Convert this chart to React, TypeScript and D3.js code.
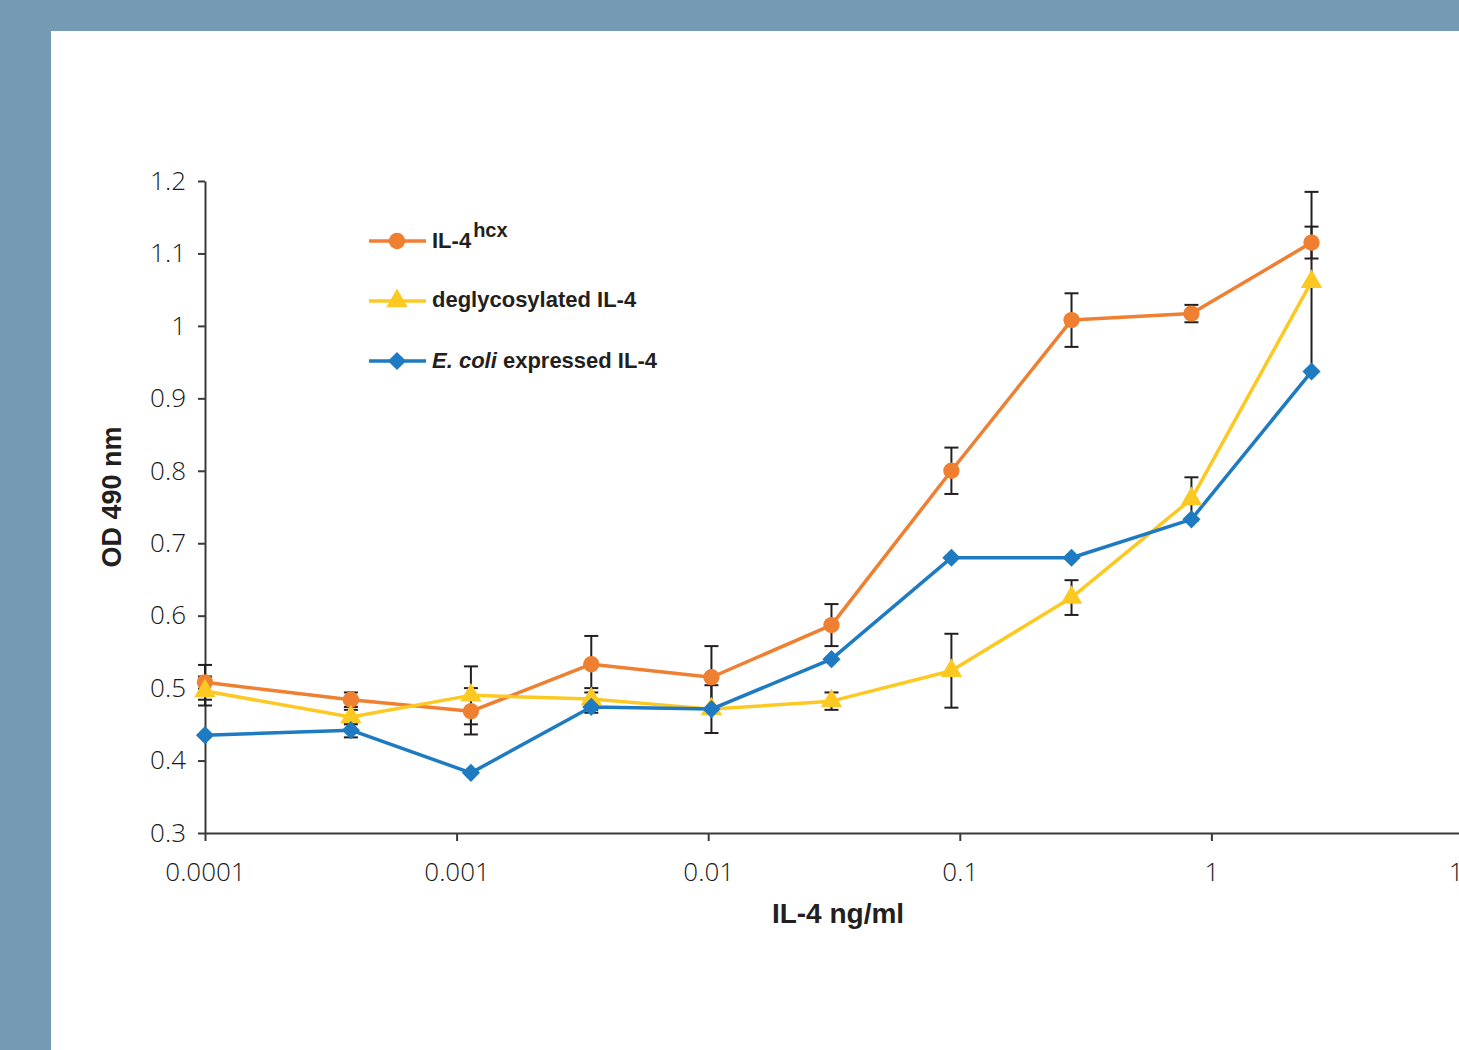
import * as d3 from "d3";
import { useEffect, useRef } from "react";

// IL-4 concentration (ng/ml), 3-fold dilution series
const doses = [0.0001, 0.00038, 0.00114, 0.00343, 0.0103, 0.0309, 0.0926, 0.278, 0.833, 2.5];

const hcxValues = [0.508, 0.484, 0.468, 0.533, 0.515, 0.587, 0.8, 1.008, 1.017, 1.115];
const hcxErrors = [0.024, 0.01, 0.032, 0.039, 0.043, 0.029, 0.032, 0.037, 0.012, 0.022];

const deglyValues = [0.496, 0.46, 0.49, 0.485, 0.471, 0.482, 0.524, 0.625, 0.761, 1.061];
const deglyErrors = [0.02, 0.01, 0.04, 0.015, 0.033, 0.012, 0.051, 0.024, 0.03, 0.124];

const ecoliValues = [0.435, 0.442, 0.383, 0.474, 0.471, 0.54, 0.68, 0.68, 0.733, 0.937];
const ecoliErrors = [0, 0.01, 0, 0.008, 0, 0, 0, 0, 0, 0];

const yTicks = [0.3, 0.4, 0.5, 0.6, 0.7, 0.8, 0.9, 1, 1.1, 1.2];
const yTickLabels = ["0.3", "0.4", "0.5", "0.6", "0.7", "0.8", "0.9", "1", "1.1", "1.2"];
const xTicks = [0.0001, 0.001, 0.01, 0.1, 1, 10];
const xTickLabels = ["0.0001", "0.001", "0.01", "0.1", "1", "10"];

const series = [
  { key: "hcx", values: hcxValues, errors: hcxErrors, color: "#ef7f31", symbol: d3.symbolCircle, size: 210, rotate: 0 },
  { key: "degly", values: deglyValues, errors: deglyErrors, color: "#fcc923", symbol: d3.symbolTriangle, size: 200, rotate: 0 },
  { key: "ecoli", values: ecoliValues, errors: ecoliErrors, color: "#1f7bc1", symbol: d3.symbolSquare, size: 165, rotate: 45 },
];

const W = 1459;
const H = 1050;
const tickFont = "'Open Sans', 'Liberation Sans', Arial, sans-serif";
const boldFont = "'Liberation Sans', Arial, Helvetica, sans-serif";

export default function App() {
  const ref = useRef<SVGSVGElement>(null);

  useEffect(() => {
    const svg = d3.select(ref.current);
    svg.selectAll("*").remove();

    const x = d3.scaleLog().domain([1e-4, 10]).range([205, 1463]);
    const y = d3.scaleLinear().domain([0.3, 1.2]).range([833, 181]);

    // page background + white panel
    svg.append("rect").attr("width", W).attr("height", H).attr("fill", "#759ab3");
    svg.append("rect").attr("x", 51).attr("y", 31).attr("width", W - 51).attr("height", H - 31).attr("fill", "#ffffff");

    // y axis
    const yAxis = svg
      .append("g")
      .attr("transform", "translate(205,0)")
      .call(
        d3
          .axisLeft(y)
          .tickValues(yTicks)
          .tickSize(7)
          .tickSizeOuter(0)
          .tickPadding(12)
          .tickFormat((d, i) => yTickLabels[i])
      );
    yAxis.select(".domain").attr("stroke", "#3a3a3a").attr("stroke-width", 2);
    yAxis.selectAll(".tick line").attr("stroke", "#3a3a3a").attr("stroke-width", 2);
    yAxis
      .selectAll(".tick text")
      .attr("fill", "#1a1a1a")
      .style("font-family", tickFont)
      .style("font-size", "26px")
      .style("font-weight", 300);

    // x axis
    const xAxis = svg
      .append("g")
      .attr("transform", "translate(0,833)")
      .call(
        d3
          .axisBottom(x)
          .tickValues(xTicks)
          .tickSize(8)
          .tickSizeOuter(0)
          .tickPadding(22)
          .tickFormat((d, i) => xTickLabels[i])
      );
    xAxis.select(".domain").attr("stroke", "#3a3a3a").attr("stroke-width", 2);
    xAxis.selectAll(".tick line").attr("stroke", "#3a3a3a").attr("stroke-width", 2);
    xAxis
      .selectAll(".tick text")
      .attr("fill", "#1a1a1a")
      .style("font-family", tickFont)
      .style("font-size", "26px")
      .style("font-weight", 300);

    // axis titles
    svg
      .append("text")
      .attr("transform", "translate(121,497) rotate(-90)")
      .attr("text-anchor", "middle")
      .attr("fill", "#231f20")
      .style("font-family", boldFont)
      .style("font-weight", "bold")
      .style("font-size", "27px")
      .text("OD 490 nm");

    svg
      .append("text")
      .attr("x", 838)
      .attr("y", 923)
      .attr("text-anchor", "middle")
      .attr("fill", "#231f20")
      .style("font-family", boldFont)
      .style("font-weight", "bold")
      .style("font-size", "28px")
      .text("IL-4 ng/ml");

    const plot = svg.append("g");

    // error bars (behind lines and markers)
    series.forEach((s) => {
      const eb = plot.append("g").attr("class", "errorbars-" + s.key);
      const rows = doses.map((d, i) => ({ d, v: s.values[i], e: s.errors[i] })).filter((r) => r.e > 0);
      eb.selectAll("line.stem")
        .data(rows)
        .enter()
        .append("line")
        .attr("x1", (r) => x(r.d))
        .attr("x2", (r) => x(r.d))
        .attr("y1", (r) => y(r.v - r.e))
        .attr("y2", (r) => y(r.v + r.e))
        .attr("stroke", "#231f20")
        .attr("stroke-width", 2);
      [-1, 1].forEach((sign) => {
        eb.selectAll("line.cap" + sign)
          .data(rows)
          .enter()
          .append("line")
          .attr("x1", (r) => x(r.d) - 7)
          .attr("x2", (r) => x(r.d) + 7)
          .attr("y1", (r) => y(r.v + sign * r.e))
          .attr("y2", (r) => y(r.v + sign * r.e))
          .attr("stroke", "#231f20")
          .attr("stroke-width", 2);
      });
    });

    // lines
    series.forEach((s) => {
      const line = d3
        .line<number>()
        .x((d, i) => x(doses[i]))
        .y((d) => y(d));
      plot
        .append("path")
        .datum(s.values)
        .attr("d", line)
        .attr("fill", "none")
        .attr("stroke", s.color)
        .attr("stroke-width", 3.5)
        .attr("stroke-linejoin", "round");
    });

    // markers
    series.forEach((s) => {
      const sym = d3.symbol().type(s.symbol).size(s.size);
      plot
        .selectAll(".marker-" + s.key)
        .data(s.values)
        .enter()
        .append("path")
        .attr("class", "marker-" + s.key)
        .attr("d", sym)
        .attr("transform", (d, i) => `translate(${x(doses[i])},${y(d)}) rotate(${s.rotate})`)
        .attr("fill", s.color);
    });

    // legend
    const legendRows = [
      { s: series[0], y: 241 },
      { s: series[1], y: 301 },
      { s: series[2], y: 361 },
    ];
    const legend = svg.append("g");
    legendRows.forEach((r) => {
      legend
        .append("line")
        .attr("x1", 369)
        .attr("x2", 426)
        .attr("y1", r.y)
        .attr("y2", r.y)
        .attr("stroke", r.s.color)
        .attr("stroke-width", 3.5);
      legend
        .append("path")
        .attr("d", d3.symbol().type(r.s.symbol).size(r.s.size)())
        .attr("transform", `translate(397,${r.y}) rotate(${r.s.rotate})`)
        .attr("fill", r.s.color);
    });

    const t1 = legend
      .append("text")
      .attr("x", 432)
      .attr("y", 248)
      .attr("fill", "#231f20")
      .style("font-family", boldFont)
      .style("font-weight", "bold")
      .style("font-size", "22px");
    t1.append("tspan").text("IL-4");
    t1.append("tspan").attr("dx", 2).attr("dy", -11).style("font-size", "20px").text("hcx");

    legend
      .append("text")
      .attr("x", 432)
      .attr("y", 307)
      .attr("fill", "#231f20")
      .style("font-family", boldFont)
      .style("font-weight", "bold")
      .style("font-size", "22px")
      .text("deglycosylated IL-4");

    const t3 = legend
      .append("text")
      .attr("x", 432)
      .attr("y", 368)
      .attr("fill", "#231f20")
      .style("font-family", boldFont)
      .style("font-weight", "bold")
      .style("font-size", "22px");
    t3.append("tspan").style("font-style", "italic").text("E. coli");
    t3.append("tspan").text(" expressed IL-4");
  }, []);

  return (
    <div style={{ position: "absolute", left: 0, top: 0 }}>
      <svg ref={ref} width={W} height={H} style={{ display: "block" }}></svg>
    </div>
  );
}
